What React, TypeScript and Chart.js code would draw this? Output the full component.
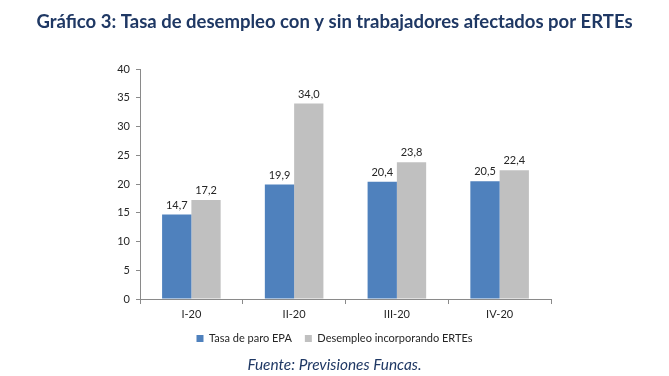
import React, { useEffect, useRef } from "react";
import { Chart, registerables } from "chart.js";

Chart.register(...registerables);

const categories = ["I-20", "II-20", "III-20", "IV-20"];
const tasaParoEPA = [14.7, 19.9, 20.4, 20.5];
const desempleoERTEs = [17.2, 34.0, 23.8, 22.4];
const seriesNames = ["Tasa de paro EPA", "Desempleo incorporando ERTEs"];
const yMin = 0;
const yMax = 40;
const yStep = 5;
const titleText = "Gráfico 3: Tasa de desempleo con y sin trabajadores afectados por ERTEs";
const sourceText = "Fuente: Previsiones Funcas.";

const FONT = "Lato, 'Open Sans', sans-serif";
const AXIS_COLOR = "#8a8a8a";
const TEXT_COLOR = "#262626";
const NAVY = "#1f3864";

const dataLabels = {
  id: "dataLabels",
  afterDatasetsDraw(chart: any) {
    const ctx = chart.ctx;
    ctx.save();
    ctx.font = `11px ${FONT}`;
    ctx.fillStyle = TEXT_COLOR;
    ctx.textAlign = "center";
    ctx.textBaseline = "bottom";
    chart.data.datasets.forEach((ds: any, i: number) => {
      const meta = chart.getDatasetMeta(i);
      meta.data.forEach((el: any, j: number) => {
        const v = ds.data[j];
        ctx.fillText(v.toFixed(1).replace(".", ","), el.x, el.y - 4);
      });
    });
    ctx.restore();
  },
};

export default function App() {
  const ref = useRef<HTMLCanvasElement | null>(null);

  useEffect(() => {
    document.body.style.margin = "0";
    const canvas = ref.current!;
    const chart = new Chart(canvas, {
      type: "bar",
      data: {
        labels: categories,
        datasets: [
          {
            label: seriesNames[0],
            data: tasaParoEPA,
            backgroundColor: "#4f81bd",
            categoryPercentage: 0.57,
            barPercentage: 1,
          },
          {
            label: seriesNames[1],
            data: desempleoERTEs,
            backgroundColor: "#c0c0c0",
            categoryPercentage: 0.57,
            barPercentage: 1,
          },
        ],
      },
      options: {
        animation: false,
        responsive: false,
        maintainAspectRatio: false,
        layout: { padding: 0 },
        scales: {
          x: {
            grid: {
              offset: true,
              drawOnChartArea: false,
              drawTicks: true,
              tickLength: 5,
              color: AXIS_COLOR,
            },
            border: { color: AXIS_COLOR },
            ticks: {
              color: TEXT_COLOR,
              font: { family: FONT, size: 11 },
              padding: 4,
            },
            afterFit(scale: any) {
              scale.height = 21;
            },
          },
          y: {
            min: yMin,
            max: yMax,
            ticks: {
              stepSize: yStep,
              color: TEXT_COLOR,
              font: { family: FONT, size: 11 },
              padding: 6,
            },
            grid: {
              drawOnChartArea: false,
              drawTicks: true,
              tickLength: 4,
              color: AXIS_COLOR,
            },
            border: { color: AXIS_COLOR },
            afterFit(scale: any) {
              scale.width = 140;
            },
          },
          yRight: {
            position: "right",
            display: true,
            ticks: { display: false },
            grid: { display: false, drawTicks: false },
            border: { display: false },
            afterFit(scale: any) {
              scale.width = 118;
            },
          },
        },
        plugins: {
          title: {
            display: true,
            text: titleText,
            color: NAVY,
            font: { family: FONT, size: 18.5, weight: "bold" },
            padding: { top: 11, bottom: 35.8 },
          },
          subtitle: {
            display: true,
            position: "bottom",
            text: sourceText,
            color: NAVY,
            font: { family: FONT, size: 15.4, style: "italic" },
            padding: { top: 4.75, bottom: 1.75 },
          },
          legend: {
            position: "bottom",
            maxHeight: 31,
            labels: {
              boxWidth: 7,
              boxHeight: 7,
              padding: 13,
              color: TEXT_COLOR,
              font: { family: FONT, size: 11 },
            },
          },
          tooltip: { enabled: false },
        },
      } as any,
      plugins: [dataLabels],
    });
    return () => chart.destroy();
  }, []);

  return (
    <div style={{ width: 669, height: 376, background: "#fff" }}>
      <canvas ref={ref} width={669} height={376} style={{ display: "block" }} />
    </div>
  );
}
